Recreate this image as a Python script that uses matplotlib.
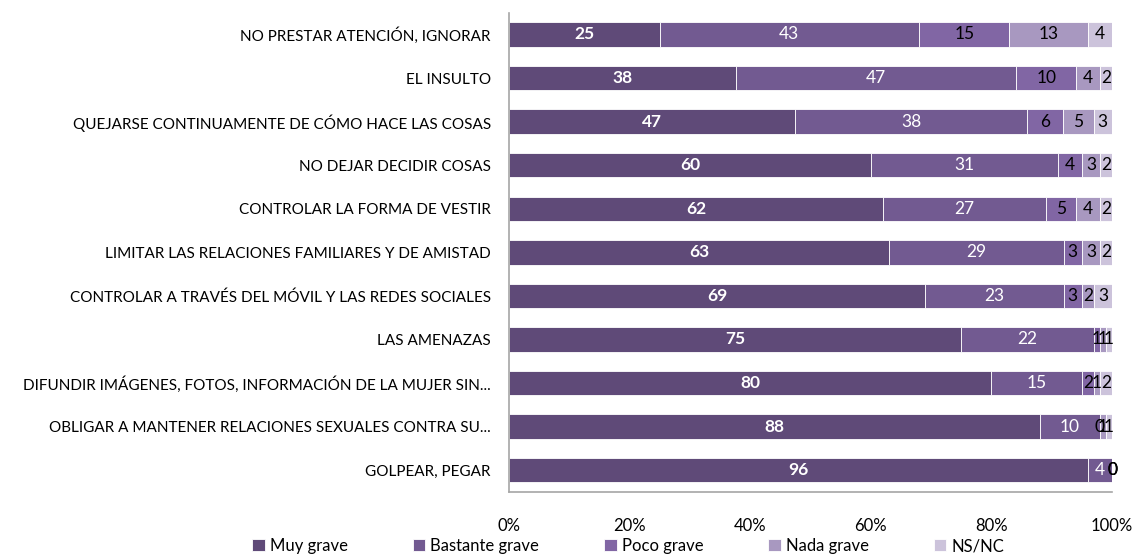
import matplotlib
matplotlib.use("Agg")
import matplotlib.pyplot as plt
import numpy as np

plt.rcParams['font.family'] = ['Lato', 'DejaVu Sans']

categories = [
    "NO PRESTAR ATENCIÓN, IGNORAR",
    "EL INSULTO",
    "QUEJARSE CONTINUAMENTE DE CÓMO HACE LAS COSAS",
    "NO DEJAR DECIDIR COSAS",
    "CONTROLAR LA FORMA DE VESTIR",
    "LIMITAR LAS RELACIONES FAMILIARES Y DE AMISTAD",
    "CONTROLAR A TRAVÉS DEL MÓVIL Y LAS REDES SOCIALES",
    "LAS AMENAZAS",
    "DIFUNDIR IMÁGENES, FOTOS, INFORMACIÓN DE LA MUJER SIN...",
    "OBLIGAR A MANTENER RELACIONES SEXUALES CONTRA SU...",
    "GOLPEAR, PEGAR",
]

series_names = ["Muy grave", "Bastante grave", "Poco grave", "Nada grave", "NS/NC"]

muy_grave      = [25, 38, 47, 60, 62, 63, 69, 75, 80, 88, 96]
bastante_grave = [43, 47, 38, 31, 27, 29, 23, 22, 15, 10, 4]
poco_grave     = [15, 10, 6, 4, 5, 3, 3, 1, 2, 0, 0]
nada_grave     = [13, 4, 5, 3, 4, 3, 2, 1, 1, 1, 0]
ns_nc          = [4, 2, 3, 2, 2, 2, 3, 1, 2, 1, 0]

colors = ["#5F4A78", "#725A91", "#8166A4", "#A898C0", "#CCC3DB"]
text_colors = ["white", "white", "black", "black", "black"]
text_weights = ["bold", "normal", "normal", "normal", "normal"]

data = np.array([muy_grave, bastante_grave, poco_grave, nada_grave, ns_nc], dtype=float)
totals = data.sum(axis=0)
shares = data / totals * 100

fig = plt.figure(figsize=(11.45, 5.54), dpi=100)
ax = fig.add_axes([509 / 1145, 1 - 492 / 554, (1112 - 509) / 1145, (492 - 12.7) / 554])

y = np.arange(len(categories))
left = np.zeros(len(categories))
handles = []
for i, name in enumerate(series_names):
    bars = ax.barh(y, shares[i], left=left, height=0.56, color=colors[i],
                   edgecolor="white", linewidth=0.6, label=name)
    handles.append(bars)
    for j, b in enumerate(bars):
        cx = left[j] + shares[i][j] / 2
        ax.text(cx, y[j], f"{int(data[i][j])}", ha="center", va="center",
                color=text_colors[i], fontweight=text_weights[i], fontsize=12.5)
    left += shares[i]

ax.set_ylim(len(categories) - 0.5, -0.5)
ax.set_xlim(0, 100)
ax.set_yticks(y)
ax.set_yticklabels(categories, fontsize=11)
ax.set_xticks([0, 20, 40, 60, 80, 100])
ax.set_xticklabels(["0%", "20%", "40%", "60%", "80%", "100%"], fontsize=12)
ax.tick_params(axis="both", length=0)
ax.tick_params(axis="y", pad=13)
ax.tick_params(axis="x", pad=19)
for side in ["top", "right"]:
    ax.spines[side].set_visible(False)
for side in ["left", "bottom"]:
    ax.spines[side].set_color("#A6A6A6")
    ax.spines[side].set_linewidth(1.2)

fig.legend(handles=handles, labels=series_names, loc="center",
           bbox_to_anchor=(628 / 1145, 1 - 546 / 554), ncol=5, frameon=False,
           fontsize=12, handlelength=0.75, handleheight=0.75,
           handletextpad=0.3, columnspacing=3.9)

fig.savefig("out.png", dpi=100)
